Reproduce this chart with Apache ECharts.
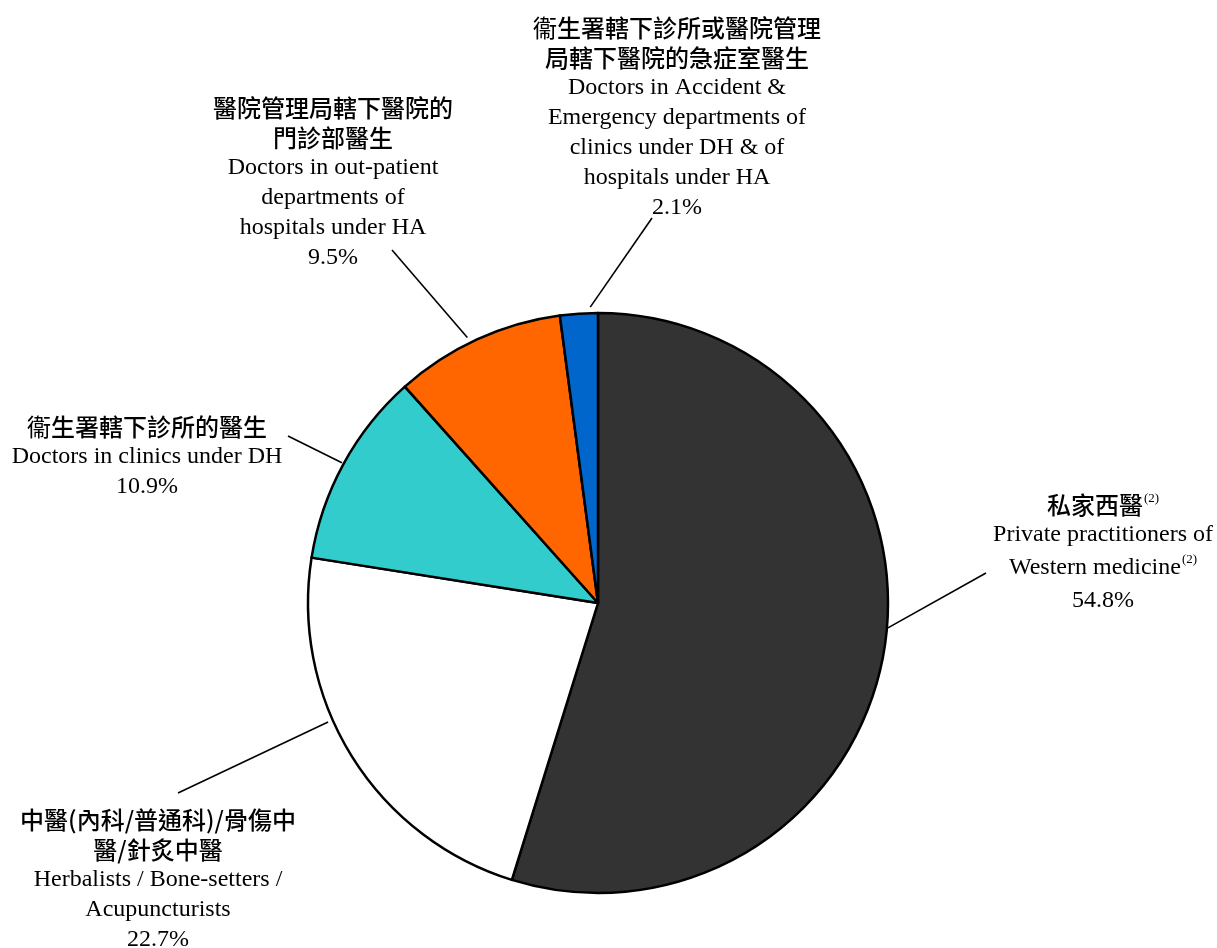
<!DOCTYPE html>
<html>
<head>
<meta charset="utf-8">
<script src="https://cdn.jsdelivr.net/npm/echarts@6/dist/echarts.min.js"></script>
<style>
  html, body { margin: 0; padding: 0; background: #ffffff; }
  #chart { width: 1217px; height: 948px; }
</style>
</head>
<body>
<div id="chart"></div>
<script>
// Share of doctors by type of practice (%), drawn clockwise from 12 o'clock
const sharePct = [54.8, 22.7, 10.9, 9.5, 2.1];

// Chinese label lines; '^' marks where the note reference goes
const labelsZh = [
  ['私家西醫^'],
  ['中醫(內科/普通科)/骨傷中', '醫/針炙中醫'],
  ['衞生署轄下診所的醫生'],
  ['醫院管理局轄下醫院的', '門診部醫生'],
  ['衞生署轄下診所或醫院管理', '局轄下醫院的急症室醫生']
];

// English label lines
const labelsEn = [
  ['Private practitioners of', 'Western medicine^'],
  ['Herbalists / Bone-setters /', 'Acupuncturists'],
  ['Doctors in clinics under DH'],
  ['Doctors in out-patient', 'departments of', 'hospitals under HA'],
  ['Doctors in Accident &', 'Emergency departments of', 'clinics under DH & of', 'hospitals under HA']
];

const noteRef = '(2)';

const sliceColors = ['#333333', '#ffffff', '#33cccc', '#ff6600', '#0066cc'];

// Pie geometry
const PIE_CX = 598, PIE_CY = 603, PIE_R = 290;

// Where each label block sits (top-centre) and how its leader line runs:
// the line leaves the rim at `angle` (degrees, screen coords, 0 = east, clockwise),
// `gap` px outside the rim, and ends at (endDx, endDy) from the block's top-centre.
const labelPlacement = [
  { x: 1103, y: 490, angle: 4.9,   gap: 1, endDx: -117, endDy: 83 },
  { x: 158,  y: 805, angle: 156.2, gap: 5, endDx: 20,   endDy: -12 },
  { x: 147,  y: 412, angle: 208.7, gap: 2, endDx: 141,  endDy: 24 },
  { x: 333,  y: 93,  angle: 243.8, gap: 6, endDx: 59,   endDy: 157 },
  { x: 677,  y: 13,  angle: 268.5, gap: 6, endDx: -25,  endDy: 205 }
];

// Turn one text line into rich-text runs: 衞 uses a lighter face, '^' becomes the note.
// English lines carrying a note get a slightly taller line box.
function richLine(text, base) {
  const hasNote = text.indexOf('^') >= 0;
  const style = (base === 'en' && hasNote) ? 'enT' : base;
  const supStyle = base === 'zh' ? 'supZh' : 'supEn';
  let out = '';
  let buf = '';
  const flush = () => { if (buf) { out += '{' + style + '|' + buf + '}'; buf = ''; } };
  for (const ch of text) {
    if (ch === '衞') { flush(); out += '{zhl|衞}'; }
    else if (ch === '^') { flush(); out += '{' + supStyle + '|' + noteRef + '}'; }
    else buf += ch;
  }
  flush();
  return out;
}

function labelText(params) {
  const i = params.dataIndex;
  const lines = [];
  labelsZh[i].forEach(s => lines.push(richLine(s, 'zh')));
  labelsEn[i].forEach(s => lines.push(richLine(s, 'en')));
  lines.push('{en|' + sharePct[i].toFixed(1) + '%}');
  return lines.join('\n');
}

const zhFont = '"Noto Sans CJK TC Medium", "Noto Sans CJK TC", "Noto Sans CJK SC", sans-serif';
const zhLightFont = '"Noto Sans CJK TC", "Noto Sans CJK SC", sans-serif';
const enFont = '"Liberation Serif", "Times New Roman", serif';

const chart = echarts.init(document.getElementById('chart'), null, { renderer: 'canvas' });

chart.setOption({
  backgroundColor: '#ffffff',
  animation: false,
  series: [{
    type: 'pie',
    center: [PIE_CX, PIE_CY],
    radius: PIE_R,
    startAngle: 90,
    clockwise: true,
    avoidLabelOverlap: false,
    silent: true,
    data: sharePct.map((v, i) => ({
      value: v,
      name: labelsEn[i].join(' ').replace('^', ''),
      itemStyle: { color: sliceColors[i] }
    })),
    itemStyle: { borderColor: '#000000', borderWidth: 2.5 },
    emphasis: { disabled: true },
    label: {
      show: true,
      position: 'outside',
      formatter: labelText,
      align: 'center',
      color: '#000000',
      rich: {
        zh:    { fontFamily: zhFont, fontSize: 24, fontWeight: 'normal', lineHeight: 30, color: '#000000', align: 'center' },
        zhl:   { fontFamily: zhLightFont, fontSize: 24, fontWeight: 'normal', lineHeight: 30, color: '#000000', align: 'center' },
        en:    { fontFamily: enFont, fontSize: 24, lineHeight: 30, color: '#000000', align: 'center' },
        enT:   { fontFamily: enFont, fontSize: 24, lineHeight: 36, color: '#000000', align: 'center' },
        supZh: { fontFamily: enFont, fontSize: 13, lineHeight: 14, padding: [2, 0, 0, 1], verticalAlign: 'top', color: '#000000', align: 'center' },
        supEn: { fontFamily: enFont, fontSize: 13, lineHeight: 14, padding: [3, 0, 0, 1], verticalAlign: 'top', color: '#000000', align: 'center' }
      }
    },
    labelLine: {
      show: true,
      length: 10,
      length2: 10,
      smooth: false,
      lineStyle: { color: '#000000', width: 1.6 }
    },
    labelLayout: function (params) {
      const p = labelPlacement[params.dataIndex];
      const a = p.angle * Math.PI / 180;
      const r = PIE_R + p.gap;
      const start = [PIE_CX + r * Math.cos(a), PIE_CY + r * Math.sin(a)];
      const end = [p.x + p.endDx, p.y + p.endDy];
      return {
        x: p.x,
        y: p.y,
        align: 'center',
        verticalAlign: 'top',
        labelLinePoints: [start, end, end]
      };
    }
  }]
});
</script>
</body>
</html>
